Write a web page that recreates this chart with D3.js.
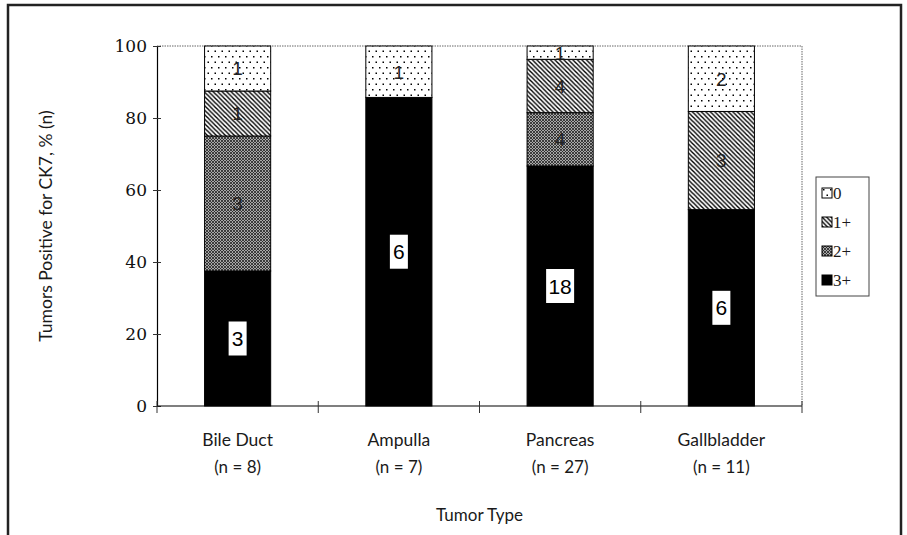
<!DOCTYPE html>
<meta charset="utf-8">
<script src="https://d3js.org/d3.v7.min.js"></script>
<style>
  body { margin: 0; background: #fff; }
  text { fill: #1a1a1a; }
</style>
<div id="my_dataviz"></div>
<script>

    // data
    let types = ["Bile Duct", "Ampulla", "Pancreas", "Gallbladder"];
    let totals = [8, 7, 27, 11];
    let grades = ["3+", "2+", "1+", "0"];
    let count3 = [3, 6, 18, 6];
    let count2 = [3, 0, 4, 0];
    let count1 = [1, 0, 4, 3];
    let count0 = [1, 1, 1, 2];
    let yTicks = [0, 20, 40, 60, 80, 100];
    let legendOrder = ["0", "1+", "2+", "3+"];

    let counts = { "3+": count3, "2+": count2, "1+": count1, "0": count0 };

    // dimensions
    let W = 907, H = 535;
    let margin = { top: 46, left: 157, right: 105, bottom: 129 };
    let x0 = margin.left, x1 = W - margin.right;
    let yTop = margin.top, yBot = H - margin.bottom;

    let svg = d3.select("#my_dataviz")
        .append("svg")
        .attr("width", W)
        .attr("height", H);

    // patterns
    let defs = svg.append("defs");
    let pDots = defs.append("pattern").attr("id", "p0")
        .attr("patternUnits", "userSpaceOnUse").attr("width", 7).attr("height", 11);
    pDots.append("rect").attr("width", 7).attr("height", 11).attr("fill", "#fff");
    pDots.append("rect").attr("x", 1).attr("y", 1).attr("width", 1.5).attr("height", 1.5).attr("fill", "#000");
    pDots.append("rect").attr("x", 4.5).attr("y", 6.5).attr("width", 1.5).attr("height", 1.5).attr("fill", "#000");

    let pHatch = defs.append("pattern").attr("id", "p1")
        .attr("patternUnits", "userSpaceOnUse").attr("width", 4.5).attr("height", 4.5);
    pHatch.append("rect").attr("width", 4.5).attr("height", 4.5).attr("fill", "#fff");
    pHatch.append("path").attr("d", "M-1,-1 L5.5,5.5 M-1,3.5 L1,5.5 M3.5,-1 L5.5,1")
        .attr("stroke", "#000").attr("stroke-width", 1.4);

    let pGrey = defs.append("pattern").attr("id", "p2")
        .attr("patternUnits", "userSpaceOnUse").attr("width", 3).attr("height", 3);
    pGrey.append("rect").attr("width", 3).attr("height", 3).attr("fill", "#a8a8a8");
    pGrey.append("path").attr("d", "M0,0 L3,3 M3,0 L0,3")
        .attr("stroke", "#222").attr("stroke-width", 0.8);

    let fills = { "0": "url(#p0)", "1+": "url(#p1)", "2+": "url(#p2)", "3+": "#000" };

    // scales
    let x = d3.scaleBand().domain(types).range([x0, x1]).padding(0);
    let y = d3.scaleLinear().domain([0, 100]).range([yBot, yTop]);
    let barW = x.bandwidth() * 0.41;

    // outer frame (left, top, right)
    svg.append("path")
        .attr("d", "M8," + (H + 5) + " L8,5 L901,5 L901," + (H + 5))
        .attr("fill", "none").attr("stroke", "#222").attr("stroke-width", 2.5);

    // plot border top/right dotted
    svg.append("path")
        .attr("d", "M" + x0 + "," + yTop + " L" + x1 + "," + yTop + " L" + x1 + "," + yBot)
        .attr("fill", "none").attr("stroke", "#666").attr("stroke-width", 1)
        .attr("stroke-dasharray", "1.5,1");

    // stacked segments
    let segs = [];
    types.forEach(function (t, i) {
        let acc = 0;
        grades.forEach(function (g) {
            let c = counts[g][i];
            let pct = c / totals[i] * 100;
            if (c > 0) segs.push({ type: t, grade: g, n: c, y0: acc, y1: acc + pct });
            acc += pct;
        });
    });

    let segG = svg.append("g").selectAll("g")
        .data(segs).enter().append("g");

    segG.each(function (d, i) {
        let g = d3.select(this);
        let cx = x(d.type) + x.bandwidth() / 2;
        g.append("clipPath").attr("id", "clip" + i)
            .append("rect")
            .attr("x", cx - barW / 2).attr("y", y(d.y1))
            .attr("width", barW).attr("height", y(d.y0) - y(d.y1));
        g.append("rect")
            .attr("x", cx - barW / 2).attr("y", y(d.y1))
            .attr("width", barW).attr("height", y(d.y0) - y(d.y1))
            .attr("fill", fills[d.grade])
            .attr("stroke", "#000").attr("stroke-width", 1);

        let cy = (y(d.y0) + y(d.y1)) / 2;
        let lab = g.append("g").attr("clip-path", "url(#clip" + i + ")");
        if (d.grade === "3+") {
            let bw = String(d.n).length > 1 ? 28 : 18;
            lab.append("rect")
                .attr("x", cx - bw / 2).attr("y", cy - 17)
                .attr("width", bw).attr("height", 34)
                .attr("fill", "#fff");
        }
        lab.append("text")
            .attr("x", cx).attr("y", cy)
            .attr("dy", "0.36em")
            .attr("text-anchor", "middle")
            .style("font-family", "Liberation Sans, Arial, sans-serif")
            .style("font-size", d.grade === "3+" ? "21px" : "19px")
            .style("fill", d.grade === "3+" ? "#000" : "#222")
            .text(d.n);
    });

    // y axis
    let yAxis = svg.append("g")
        .attr("transform", "translate(" + x0 + ",0)")
        .call(d3.axisLeft(y).tickValues(yTicks).tickSize(4).tickSizeOuter(0));
    yAxis.select(".domain").attr("stroke", "#000").attr("stroke-width", 1.2);
    yAxis.selectAll(".tick line").attr("x1", 4).attr("x2", -4).attr("stroke", "#333");
    yAxis.selectAll(".tick text")
        .attr("x", -10)
        .style("font-family", "DejaVu Serif, serif")
        .style("font-size", "17px")
        .style("fill", "#111");

    // x axis line and ticks at band edges
    svg.append("line")
        .attr("x1", x0).attr("x2", x1).attr("y1", yBot).attr("y2", yBot)
        .attr("stroke", "#000").attr("stroke-width", 1.2);
    let edges = types.map(function (t) { return x(t); }).concat([x1]);
    svg.append("g").selectAll("line").data(edges).enter().append("line")
        .attr("x1", function (d) { return d; }).attr("x2", function (d) { return d; })
        .attr("y1", yBot - 5).attr("y2", yBot + 7)
        .attr("stroke", "#333").attr("stroke-width", 1);

    // category labels
    let catG = svg.append("g").selectAll("g").data(types).enter().append("g");
    catG.append("text")
        .attr("x", function (d) { return x(d) + x.bandwidth() / 2; })
        .attr("y", 446)
        .attr("text-anchor", "middle")
        .style("font-family", "Lato, sans-serif")
        .style("font-size", "17.5px")
        .text(function (d) { return d; });
    catG.append("text")
        .attr("x", function (d) { return x(d) + x.bandwidth() / 2; })
        .attr("y", 473)
        .attr("text-anchor", "middle")
        .style("font-family", "Lato, sans-serif")
        .style("font-size", "17px")
        .text(function (d, i) { return "(n = " + totals[i] + ")"; });

    // axis titles
    svg.append("text")
        .attr("x", (x0 + x1) / 2).attr("y", 521)
        .attr("text-anchor", "middle")
        .style("font-family", "Lato, sans-serif")
        .style("font-size", "17px")
        .text("Tumor Type");
    svg.append("text")
        .attr("transform", "translate(52," + ((yTop + yBot) / 2) + ") rotate(-90)")
        .attr("text-anchor", "middle")
        .style("font-family", "Lato, sans-serif")
        .style("font-size", "17.5px")
        .text("Tumors Positive for CK7, % (n)");

    // legend
    let lg = svg.append("g").attr("transform", "translate(816,177)");
    lg.append("rect").attr("width", 53).attr("height", 119)
        .attr("fill", "#fff").attr("stroke", "#444").attr("stroke-width", 1);
    let item = lg.selectAll(".legend").data(legendOrder).enter().append("g")
        .attr("class", "legend")
        .attr("transform", function (d, i) { return "translate(6," + (11 + i * 29) + ")"; });
    item.append("rect").attr("width", 10).attr("height", 10)
        .attr("fill", function (d) { return fills[d]; })
        .attr("stroke", "#000").attr("stroke-width", 1);
    item.append("text")
        .attr("x", 11).attr("y", 5).attr("dy", "0.36em")
        .style("font-family", "Liberation Serif, serif")
        .style("font-size", "17px")
        .text(function (d) { return d; });

</script>
